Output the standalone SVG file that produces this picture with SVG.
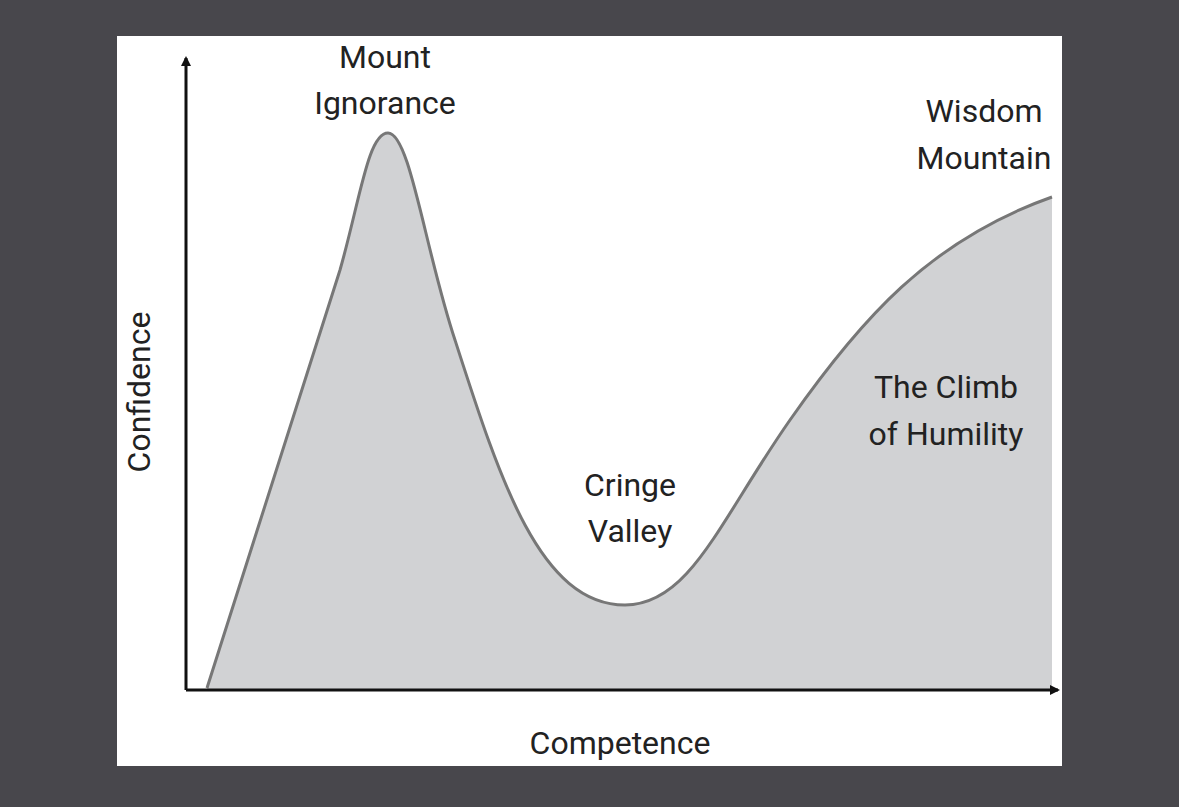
<svg xmlns="http://www.w3.org/2000/svg" width="1179" height="807" viewBox="0 0 1179 807">
<style>
text{font-family:Roboto,"Liberation Sans",sans-serif;font-size:32px;fill:#222;text-anchor:middle}
.ax{stroke:#111;stroke-width:3;fill:none}
</style>
<defs><marker id="ar" markerWidth="10" markerHeight="10" refX="8" refY="5" orient="auto" markerUnits="userSpaceOnUse"><path d="M0,0 L10,5 L0,10 Z" fill="#111"/></marker></defs>
<rect width="1179" height="807" fill="#48474c"/>
<rect x="117" y="36" width="945" height="730" fill="#fff"/>
<path d="M207,688 L340,270 C360,200 368,133 388,133 C410,133 425,250 455,340 C500,480 540,605 625,605 C690,605 720,520 790,420 C860,320 930,240 1052,197 L1052,690 L207,690 Z" fill="#d1d2d4"/>
<path d="M207,688 L340,270 C360,200 368,133 388,133 C410,133 425,250 455,340 C500,480 540,605 625,605 C690,605 720,520 790,420 C860,320 930,240 1052,197" fill="none" stroke="#777" stroke-width="3"/>
<g id="axes">
<line class="ax" x1="186" y1="690" x2="186" y2="58" marker-end="url(#ar)"/>
<line class="ax" x1="186" y1="690" x2="1058" y2="690" marker-end="url(#ar)"/>
</g>
<text x="385" y="68">Mount</text><text x="385" y="114">Ignorance</text>
<text x="984" y="122">Wisdom</text><text x="984" y="169">Mountain</text>
<text x="946" y="398">The Climb</text><text x="946" y="445">of Humility</text>
<text x="630" y="496">Cringe</text><text x="630" y="542">Valley</text>
<text x="620" y="754">Competence</text>
<text transform="translate(150,392) rotate(-90)">Confidence</text>
</svg>
